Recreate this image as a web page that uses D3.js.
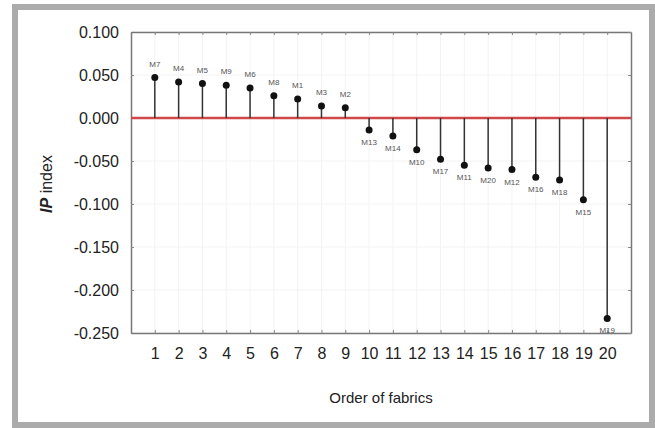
<!DOCTYPE html>
<html>
<head>
<meta charset="utf-8">
<script src="https://cdn.jsdelivr.net/npm/d3@7"></script>
<style>
  html, body { margin: 0; padding: 0; background: #fff; }
  svg { display: block; font-family: "Liberation Sans", Arial, sans-serif; }
</style>
</head>
<body>
<svg id="chart" width="655" height="428"></svg>
<script>
const order = [1,2,3,4,5,6,7,8,9,10,11,12,13,14,15,16,17,18,19,20];
const fabrics = ["M7","M4","M5","M9","M6","M8","M1","M3","M2","M13","M14","M10","M17","M11","M20","M12","M16","M18","M15","M19"];
const ipIndex = [0.047,0.042,0.040,0.038,0.035,0.026,0.022,0.014,0.012,-0.014,-0.021,-0.037,-0.048,-0.055,-0.058,-0.060,-0.069,-0.072,-0.095,-0.233];
const yTicks = [0.1,0.05,0,-0.05,-0.1,-0.15,-0.2,-0.25];

const svg = d3.select("#chart");

// outer frame
svg.append("rect").attr("x",15).attr("y",7).attr("width",637).attr("height",418)
  .attr("fill","#fff").attr("stroke","#ababab").attr("stroke-width",6);

const x = d3.scaleLinear().domain([0,21]).range([131,631]);
const y = d3.scaleLinear().domain([-0.25,0.1]).range([333,32]);

// faint grid
const g = svg.append("g");
g.selectAll("line.vg").data(order).join("line").attr("class","vg")
  .attr("x1",d=>x(d)).attr("x2",d=>x(d)).attr("y1",y(0.1)).attr("y2",y(-0.25))
  .attr("stroke","#f3f3f3").attr("stroke-width",1);
g.selectAll("line.hg").data(yTicks).join("line").attr("class","hg")
  .attr("x1",x(0)).attr("x2",x(21)).attr("y1",d=>y(d)).attr("y2",d=>y(d))
  .attr("stroke","#f3f3f3").attr("stroke-width",1);

// axes
const fmt = d3.format(".3f");
const yAxis = svg.append("g").attr("transform",`translate(${x(0)},0)`)
  .call(d3.axisLeft(y).tickValues(yTicks).tickFormat(d=>fmt(d).replace("−","-")).tickSizeInner(-3).tickSizeOuter(0).tickPadding(12));
const xAxis = svg.append("g").attr("transform",`translate(0,${y(-0.25)})`)
  .call(d3.axisBottom(x).tickValues(order).tickFormat(d3.format("d")).tickSizeInner(-3).tickSizeOuter(0).tickPadding(15));
const xTop = svg.append("g").attr("transform",`translate(0,${y(0.1)})`)
  .call(d3.axisTop(x).tickValues(order).tickFormat("").tickSizeInner(-3).tickSizeOuter(0));
const yRight = svg.append("g").attr("transform",`translate(${x(21)},0)`)
  .call(d3.axisRight(y).tickValues(yTicks).tickFormat("").tickSizeInner(-3).tickSizeOuter(0));

[yAxis,xAxis,xTop,yRight].forEach(a=>{
  a.select(".domain").attr("stroke","#777").attr("stroke-width",1.5);
  a.selectAll(".tick line").attr("stroke","#888");
  a.selectAll(".tick text").attr("fill","#222").attr("font-size",16)
    .attr("font-family","'Liberation Sans', Arial, sans-serif");
});

// zero line
svg.append("line").attr("x1",x(0)).attr("x2",x(21)).attr("y1",y(0)).attr("y2",y(0))
  .attr("stroke","#d04848").attr("stroke-width",2.5);

const data = order.map((o,i)=>({o, v: ipIndex[i], name: fabrics[i]}));

svg.selectAll("line.stem").data(data).join("line").attr("class","stem")
  .attr("x1",d=>x(d.o)).attr("x2",d=>x(d.o)).attr("y1",y(0)).attr("y2",d=>y(d.v))
  .attr("stroke","#333").attr("stroke-width",1.5);

svg.selectAll("circle.dot").data(data).join("circle").attr("class","dot")
  .attr("cx",d=>x(d.o)).attr("cy",d=>y(d.v)).attr("r",3.5).attr("fill","#111");

svg.selectAll("text.lbl").data(data).join("text").attr("class","lbl")
  .attr("x",d=>x(d.o)).attr("y",d=>d.v>=0 ? y(d.v)-11 : y(d.v)+15)
  .attr("text-anchor","middle").attr("font-size",8).attr("fill","#555")
  .text(d=>d.name);

// axis titles
svg.append("text").attr("x",381).attr("y",403).attr("text-anchor","middle")
  .attr("font-size",15).attr("fill","#222").text("Order of fabrics");

const yt = svg.append("text").attr("transform","translate(52,184) rotate(-90)")
  .attr("text-anchor","middle").attr("font-size",16).attr("fill","#222");
yt.append("tspan").attr("font-weight","bold").attr("font-style","italic").text("IP");
yt.append("tspan").text(" index");
</script>
</body>
</html>
